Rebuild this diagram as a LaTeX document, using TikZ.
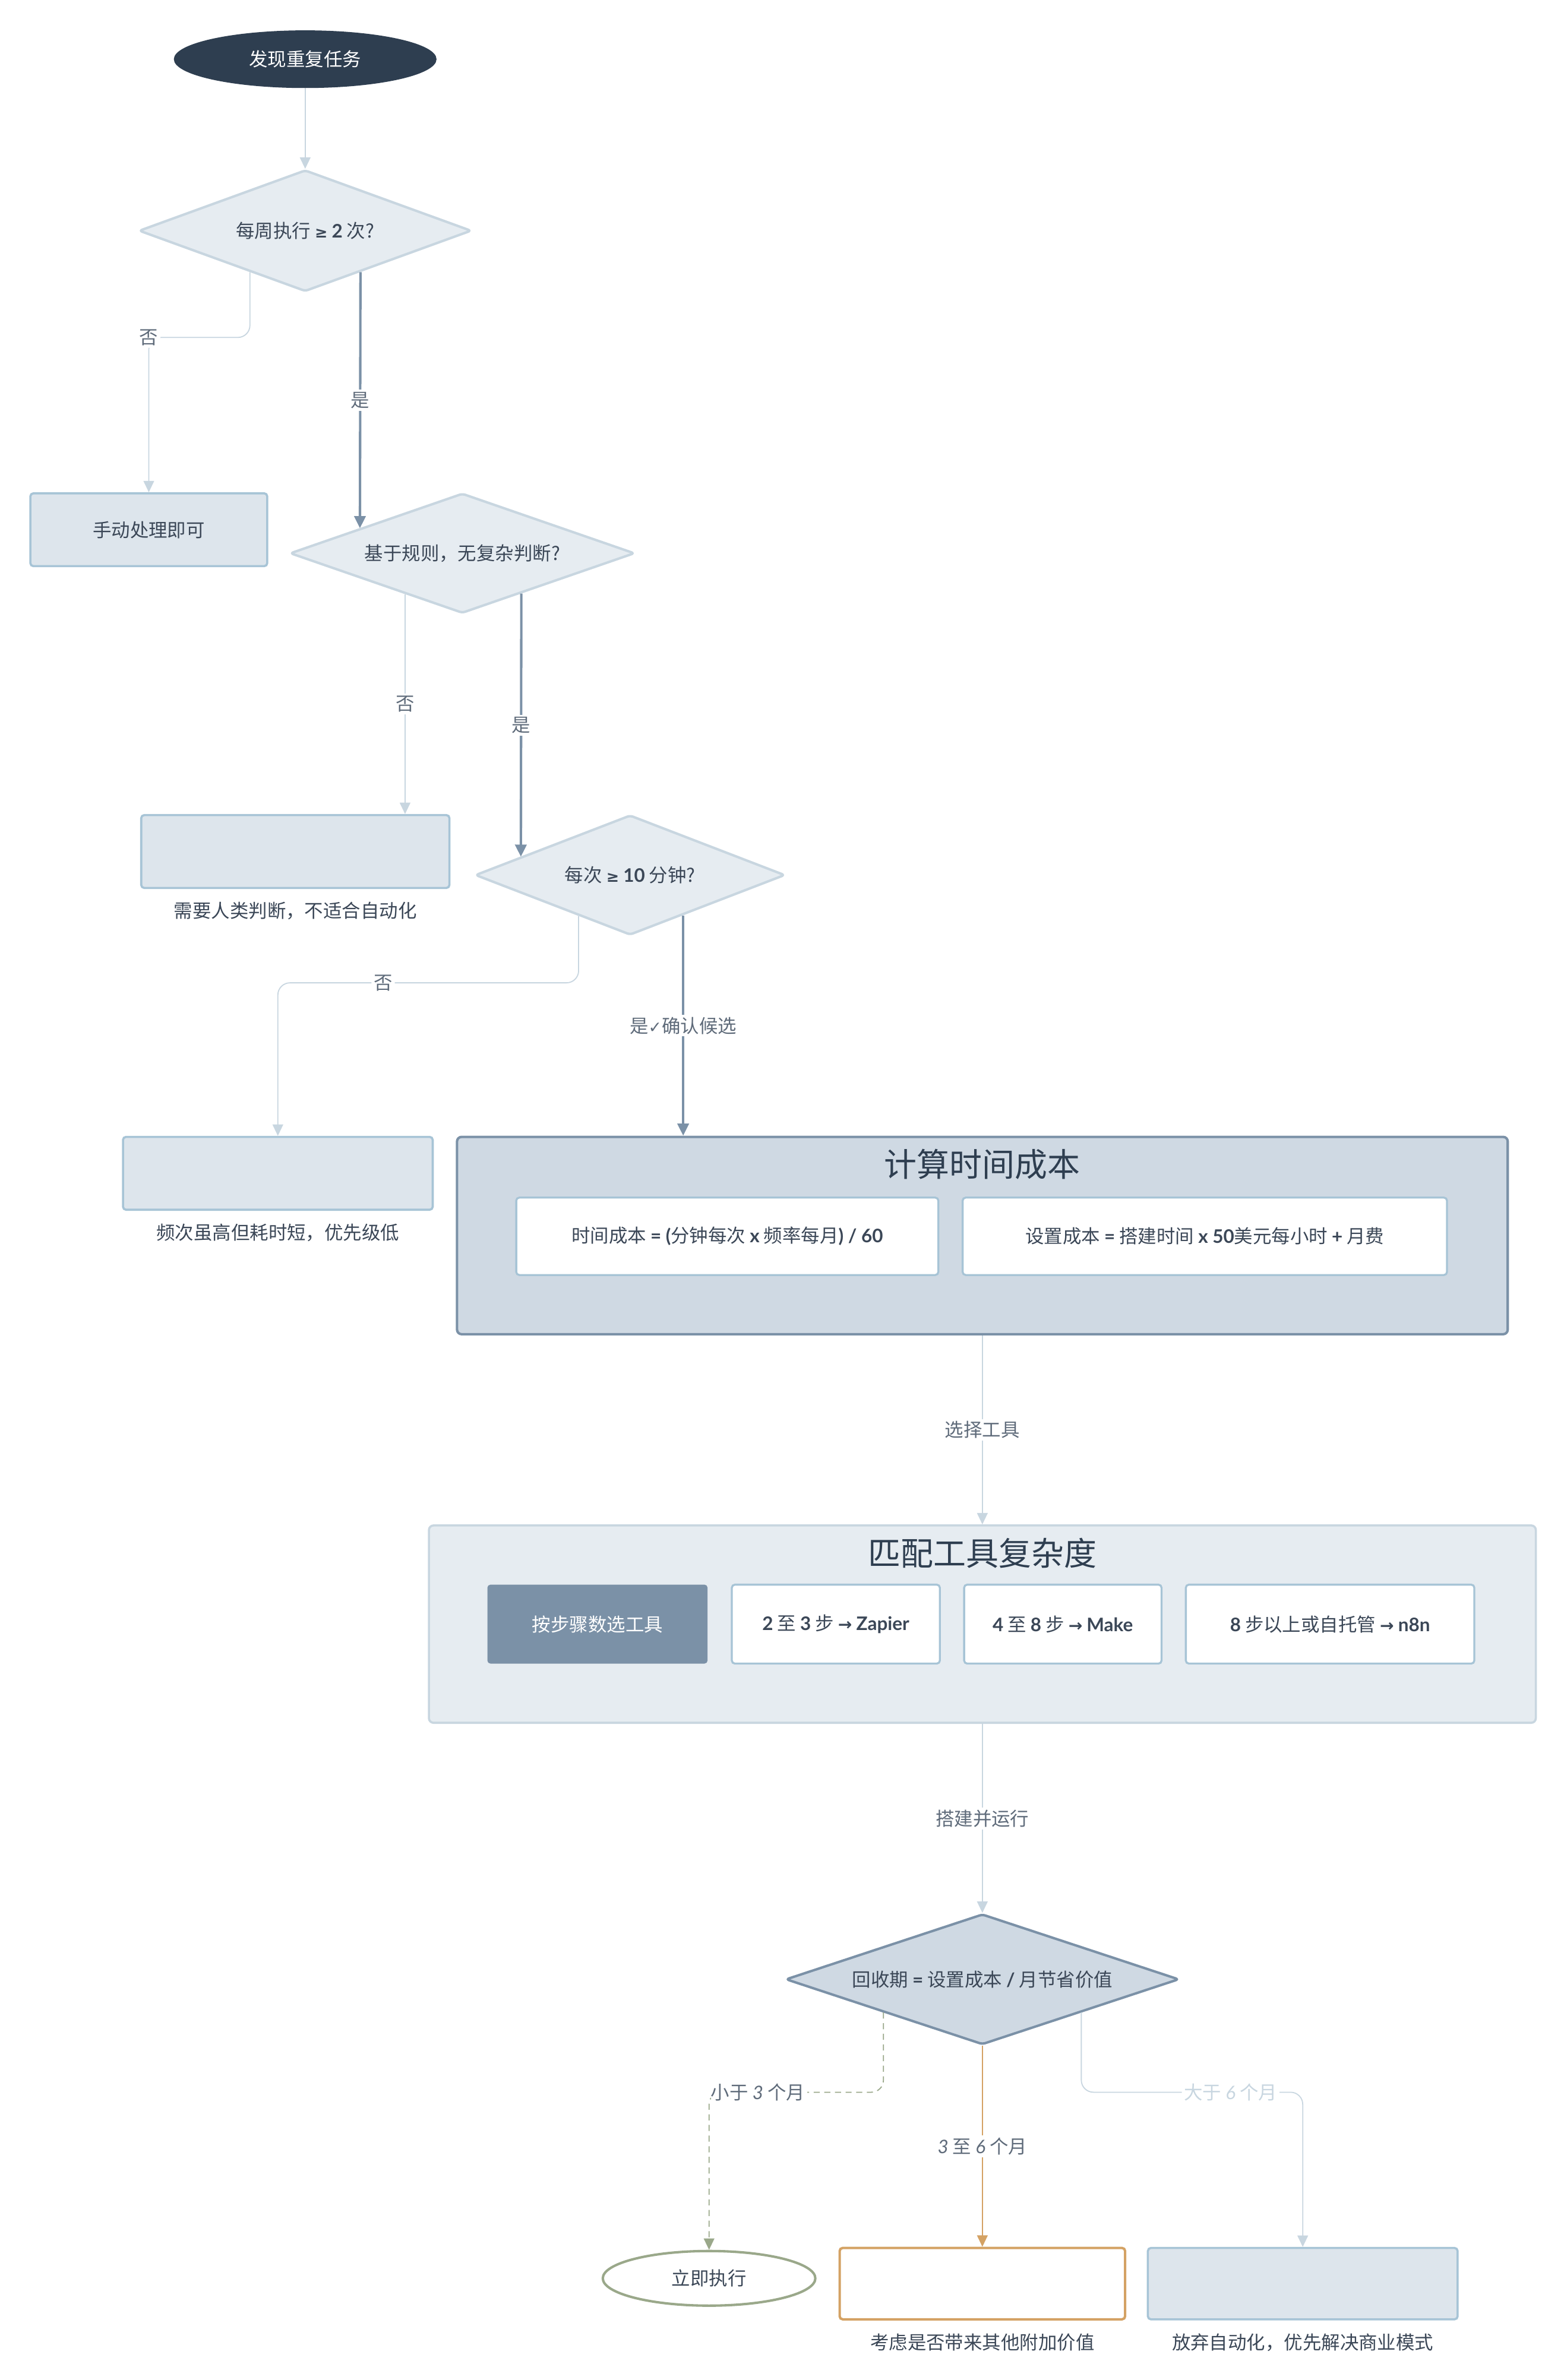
\documentclass[tikz,border=0pt]{standalone}
\usepackage{fontspec}
\setmainfont{Noto Sans CJK SC}
\newfontfamily\latf{Lato}
\newfontfamily\symf{DejaVu Sans}
\usetikzlibrary{arrows.meta,calc,positioning,shapes.geometric}
\definecolor{navy}{HTML}{2E3E50}
\definecolor{ink}{HTML}{3B4757}
\definecolor{muted}{HTML}{5F6B7A}
\definecolor{paleline}{HTML}{C8D6E0}
\definecolor{palefill}{HTML}{E6ECF1}
\definecolor{boxfill}{HTML}{DDE5EC}
\definecolor{boxline}{HTML}{A7C4D6}
\definecolor{steel}{HTML}{7B91A7}
\definecolor{steelfill}{HTML}{CFD9E3}
\definecolor{olive}{HTML}{9AA88A}
\definecolor{amber}{HTML}{D4A264}
\newcommand\bnum[1]{{\latf\bfseries #1}}
\newcommand\inum[1]{{\latf\itshape #1}}
\newcommand\atleast{{\symf\bfseries\fontsize{10}{12}\selectfont ≥}}
\newcommand\toarr{{\symf\bfseries\fontsize{11}{12}\selectfont →}}
\tikzset{base/.style={font=\fontsize{12.3}{14}\selectfont,text=ink},
  decide/.style={base,diamond,draw=paleline,fill=palefill,line width=1.6pt,inner sep=0pt,rounded corners=2pt},
  decidedark/.style={decide,draw=steel,fill=steelfill},
  endbox/.style={base,draw=boxline,fill=boxfill,line width=1.4pt,rounded corners=2pt,minimum height=48pt},
  cellbox/.style={base,draw=boxline,fill=white,line width=1.3pt,rounded corners=2pt,minimum height=51pt},
  group/.style={draw=paleline,fill=palefill,line width=1.4pt,rounded corners=3pt,minimum height=130pt},
  grouptitle/.style={font=\fontsize{21.5}{24}\selectfont,text=navy},
  elabel/.style={font=\fontsize{12.3}{14}\selectfont,text=muted,fill=white,inner sep=1.5pt},
  thin/.style={draw=paleline,line width=0.7pt,-{Triangle[length=7.5pt,width=7pt]}},
  yes/.style={draw=steel,line width=1.6pt,-{Triangle[length=8pt,width=7.5pt]}}}

\begin{document}
\begin{tikzpicture}[x=1pt,y=-1pt]
\fill[white] (0,0) rectangle (1030,1568);
\useasboundingbox (0,0) rectangle (1030,1568);

% screening questions
\node[base,ellipse,fill=navy,text=white,minimum width=173pt,minimum height=38pt] (start) at (201,39) {发现重复任务};
\node[decide,aspect=2.74,minimum width=219pt,minimum height=80pt] (weekly) at (201,152) {每周执行 \atleast\ \bnum{2} 次?};
\node[endbox,minimum width=156pt] (manual) at (98,349) {手动处理即可};
\node[decide,aspect=2.87,minimum width=227pt,minimum height=79pt] (rules) at (304.5,364.5) {基于规则，无复杂判断?};
\node[endbox,minimum width=203pt] (human) at (194.5,561) {};
\node[base,below=5pt of human] (humantxt) {需要人类判断，不适合自动化};
\node[decide,aspect=2.58,minimum width=204pt,minimum height=79pt] (often) at (415,576.5) {每次 \atleast\ \bnum{10} 分钟?};
\node[endbox,minimum width=204pt] (busy) at (183,773) {};
\node[base,below=5pt of busy] (busytxt) {频次虽高但耗时短，优先级低};

\draw[thin] (start) -- (weekly);
\draw[thin,rounded corners=8pt] ($(weekly.south)!.33!(weekly.west)$) -- ++(0,43) -| (manual.north) node[elabel,pos=.5] {否};
\draw[yes] ($(weekly.south)!.33!(weekly.east)$) -- ($(rules.north)!.59!(rules.west)$) node[elabel,midway] {是};
\coordinate (rulesno) at ($(rules.south)!.33!(rules.west)$);
\draw[thin] (rulesno) -- (rulesno |- human.north) node[elabel,midway] {否};
\draw[yes] ($(rules.south)!.34!(rules.east)$) -- ($(often.north)!.70!(often.west)$) node[elabel,midway] {是};
\draw[thin,rounded corners=8pt] ($(often.south)!.33!(often.west)$) -- ++(0,44) -| (busy.north) node[elabel,pos=.325] {否};

% cost block
\node[group,draw=steel,fill=steelfill,line width=1.6pt,minimum width=692pt] (cost) at (647,814) {};
\node[grouptitle] (costtitle) at ($(cost.north)+(0,19)$) {计算时间成本};
\node[cellbox,minimum width=278pt] (timecost) at (479,814.5) {时间成本 \bnum{= (}分钟每次 \bnum{x} 频率每月\bnum{) / 60}};
\node[cellbox,minimum width=319pt] (setcost) at (793.5,814.5) {设置成本 \bnum{=} 搭建时间 \bnum{x 50}美元每小时 \bnum{+} 月费};
\coordinate (oftenyes) at ($(often.south)!.34!(often.east)$);
\draw[yes] (oftenyes) -- (oftenyes |- cost.north) node[elabel,midway] {是{\symf\fontsize{10.5}{12}\selectfont ✓}确认候选};

% tool block
\node[group,minimum width=729pt] (tools) at (647,1070) {};
\node[grouptitle] (toolstitle) at ($(tools.north)+(0,19)$) {匹配工具复杂度};
\node[base,fill=steel,text=white,rounded corners=2pt,minimum width=145pt,minimum height=52pt] (bysteps) at (393.5,1070) {按步骤数选工具};
\node[cellbox,minimum width=137pt,minimum height=52pt] (zapier) at (550.5,1070) {\bnum{2} 至 \bnum{3} 步 \toarr\ \bnum{Zapier}};
\node[cellbox,minimum width=130pt,minimum height=52pt] (make) at (700,1070) {\bnum{4} 至 \bnum{8} 步 \toarr\ \bnum{Make}};
\node[cellbox,minimum width=190pt,minimum height=52pt] (neight) at (876,1070) {\bnum{8} 步以上或自托管 \toarr\ \bnum{n8n}};
\draw[thin] (cost) -- (tools) node[elabel,midway] {选择工具};

% payback
\node[decidedark,aspect=3,minimum width=259pt,minimum height=86pt] (payback) at (647,1304) {回收期 \bnum{=} 设置成本 \bnum{/} 月节省价值};
\draw[thin] (tools) -- (payback) node[elabel,midway] {搭建并运行};
\node[base,ellipse,draw=olive,line width=1.6pt,fill=white,minimum width=140pt,minimum height=36pt] (now) at (467,1501) {立即执行};
\node[endbox,draw=amber,fill=white,line width=1.6pt,minimum width=188pt,minimum height=47pt] (extra) at (647,1504.5) {};
\node[base,below=5pt of extra] (extratxt) {考虑是否带来其他附加价值};
\node[endbox,minimum width=204pt,minimum height=47pt] (drop) at (858,1504.5) {};
\node[base,below=5pt of drop] (droptxt) {放弃自动化，优先解决商业模式};

\draw[thin,draw=olive,dash pattern=on 4pt off 3pt,rounded corners=8pt] (payback.south west) -- ++(0,52.5) -| (now.north) node[elabel,pos=.36] {小于 \inum{3} 个月};
\draw[thin,draw=amber] (payback) -- (extra) node[elabel,midway] {\inum{3} 至 \inum{6} 个月};
\draw[thin,rounded corners=8pt] (payback.south east) -- ++(0,52.5) -| (drop.north) node[elabel,text=paleline,pos=.337] {大于 \inum{6} 个月};
\end{tikzpicture}
\end{document}
